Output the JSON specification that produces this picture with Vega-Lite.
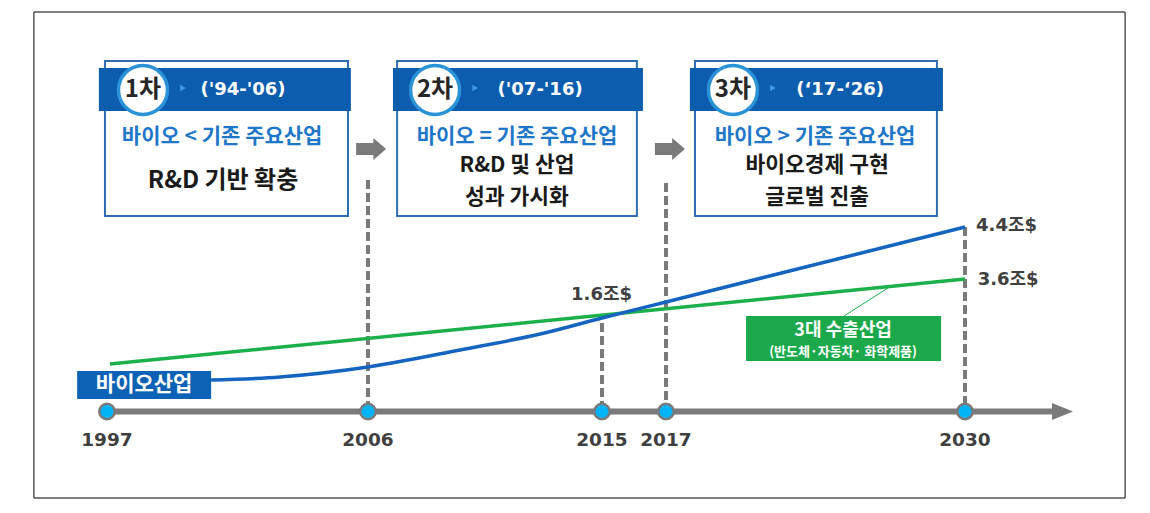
{
  "$schema": "https://vega.github.io/schema/vega-lite/v6.json",
  "width": 1150,
  "height": 513,
  "autosize": "none",
  "padding": 0,
  "background": "white",
  "config": {"view": {"stroke": null}},
  "datasets": {
    "frame": [{"x": 1994.48, "x2": 2036.96, "y": 100.2, "y2": 3.0}],
    "boxes": [
      {"phase": "1차", "x": 1996.93, "x2": 2005.31, "y": 90.4, "y2": 59.4},
      {"phase": "2차", "x": 2007.12, "x2": 2016.09, "y": 90.4, "y2": 59.4},
      {"phase": "3차", "x": 2018.26, "x2": 2028.78, "y": 90.4, "y2": 59.4}
    ],
    "bands": [
      {"phase": "1차", "x": 1996.72, "x2": 2005.41, "y": 89.0, "y2": 80.4},
      {"phase": "2차", "x": 2006.96, "x2": 2016.28, "y": 89.0, "y2": 80.4},
      {"phase": "3차", "x": 2018.04, "x2": 2029.04, "y": 89.0, "y2": 80.4}
    ],
    "badges": [
      {"label": "1차", "x": 1998.24, "y": 84.6},
      {"label": "2차", "x": 2008.58, "y": 84.6},
      {"label": "3차", "x": 2019.91, "y": 84.6}
    ],
    "chevrons": [
      {"x": 1999.62, "y": 85.0},
      {"x": 2010.12, "y": 85.0},
      {"x": 2021.65, "y": 85.0}
    ],
    "periods": [
      {"label": "('94-'06)", "x": 2001.69, "y": 84.6},
      {"label": "('07-'16)", "x": 2012.62, "y": 84.6},
      {"label": "(‘17-‘26)", "x": 2024.57, "y": 84.6}
    ],
    "compare": [
      {"label": "바이오 < 기존 주요산업", "x": 2000.97, "y": 75.2},
      {"label": "바이오 = 기존 주요산업", "x": 2011.73, "y": 75.2},
      {"label": "바이오 > 기존 주요산업", "x": 2023.48, "y": 75.2}
    ],
    "goalSingle": [
      {"label": "R&D  기반  확충", "x": 2001.0, "y": 66.4}
    ],
    "goals": [
      {"label": "R&D 및 산업", "x": 2011.73, "y": 69.4},
      {"label": "성과 가시화", "x": 2011.73, "y": 63.0},
      {"label": "바이오경제 구현", "x": 2023.57, "y": 69.4},
      {"label": "글로벌 진출", "x": 2023.57, "y": 63.0}
    ],
    "arrows": [
      {"x": 2006.12, "y": 72.8},
      {"x": 2017.17, "y": 72.8}
    ],
    "guides": [
      {"x": 2006, "y": 66.6, "y2": 21.6},
      {"x": 2015, "y": 38.0, "y2": 21.6},
      {"x": 2017, "y": 66.0, "y2": 21.6},
      {"x": 2030, "y": 57.2, "y2": 21.6}
    ],
    "exportIndustry": [
      {"x": 1997.10, "y": 29.8},
      {"x": 2030.0, "y": 46.8}
    ],
    "bioIndustry": [
      {"x": 2000.59, "y": 26.6},
      {"x": 2002.97, "y": 27.2},
      {"x": 2006.0, "y": 29.2},
      {"x": 2009.54, "y": 32.6},
      {"x": 2012.62, "y": 35.8},
      {"x": 2015.0, "y": 39.0},
      {"x": 2017.0, "y": 42.2},
      {"x": 2030.0, "y": 57.2}
    ],
    "values": [
      {"label": "4.4조$", "x": 2030.48, "y": 57.4},
      {"label": "3.6조$", "x": 2030.55, "y": 46.6},
      {"label": "1.6조$", "x": 2013.81, "y": 43.6}
    ],
    "leader": [{"x": 2026.65, "y": 45.0, "x2": 2024.74, "y2": 39.4}],
    "exportBox": [{"x": 2020.48, "x2": 2028.96, "y": 39.4, "y2": 30.4}],
    "exportText": [
      {"label": "3대 수출산업", "x": 2024.70, "y": 36.5, "kind": "main"},
      {"label": "(반도체·자동차· 화학제품)", "x": 2024.70, "y": 32.2, "kind": "sub"}
    ],
    "bioBox": [{"x": 1995.97, "x2": 2000.59, "y": 28.4, "y2": 22.8}],
    "bioText": [{"label": "바이오산업", "x": 1998.28, "y": 25.6}],
    "axisLine": [{"x": 1997, "x2": 2033.78, "y": 20.3}],
    "axisHead": [{"x": 2034.24, "y": 20.3}],
    "milestones": [
      {"x": 1997, "y": 20.3},
      {"x": 2006, "y": 20.3},
      {"x": 2015, "y": 20.3},
      {"x": 2017, "y": 20.3},
      {"x": 2030, "y": 20.3}
    ]
  },
  "encoding": {
    "x": {"field": "x", "type": "quantitative", "axis": null,
      "scale": {"domain": [1997, 2006, 2015, 2017, 2030], "range": [107, 368, 602, 666, 965], "zero": false, "nice": false}},
    "y": {"field": "y", "type": "quantitative", "axis": null,
      "scale": {"domain": [0, 102.6], "zero": false, "nice": false}}
  },
  "layer": [
    {"data": {"name": "frame"}, "mark": {"type": "rect", "fill": null, "stroke": "#000000", "strokeWidth": 1},
      "encoding": {"x2": {"field": "x2"}, "y2": {"field": "y2"}}},
    {"data": {"name": "boxes"}, "mark": {"type": "rect", "fill": "white", "stroke": "#2e6db4", "strokeWidth": 2},
      "encoding": {"x2": {"field": "x2"}, "y2": {"field": "y2"}}},
    {"data": {"name": "bands"}, "mark": {"type": "rect", "fill": "#0d5dae"},
      "encoding": {"x2": {"field": "x2"}, "y2": {"field": "y2"}}},
    {"data": {"name": "badges"}, "mark": {"type": "point", "shape": "circle", "filled": true, "fill": "white", "stroke": "#2a93d8", "strokeWidth": 3.5, "size": 2400, "opacity": 1}},
    {"data": {"name": "badges"}, "mark": {"type": "text", "font": "Noto Sans CJK KR", "fontWeight": "bold", "fontSize": 24, "color": "#262626", "align": "center", "baseline": "middle"},
      "encoding": {"text": {"field": "label"}}},
    {"data": {"name": "chevrons"}, "mark": {"type": "point", "shape": "triangle-right", "filled": true, "color": "#3d9de0", "size": 40, "opacity": 1}},
    {"data": {"name": "periods"}, "mark": {"type": "text", "font": "DejaVu Sans", "fontWeight": "bold", "fontSize": 18, "color": "white", "align": "center", "baseline": "middle"},
      "encoding": {"text": {"field": "label"}}},
    {"data": {"name": "compare"}, "mark": {"type": "text", "font": "Noto Sans CJK KR", "fontWeight": "bold", "fontSize": 21, "color": "#1f77c9", "align": "center", "baseline": "middle"},
      "encoding": {"text": {"field": "label"}}},
    {"data": {"name": "goalSingle"}, "mark": {"type": "text", "font": "Noto Sans CJK KR", "fontWeight": "bold", "fontSize": 24, "color": "#1a1a1a", "align": "center", "baseline": "middle"},
      "encoding": {"text": {"field": "label"}}},
    {"data": {"name": "goals"}, "mark": {"type": "text", "font": "Noto Sans CJK KR", "fontWeight": "bold", "fontSize": 21.5, "color": "#1a1a1a", "align": "center", "baseline": "middle"},
      "encoding": {"text": {"field": "label"}}},
    {"data": {"name": "arrows"}, "mark": {"type": "point", "shape": "M-1,-0.4L0.15,-0.4L0.15,-0.73L1,0L0.15,0.73L0.15,0.4L-1,0.4Z", "filled": true, "color": "#7a7a7a", "size": 900, "opacity": 1}},
    {"data": {"name": "guides"}, "mark": {"type": "rule", "color": "#7a7a7a", "strokeWidth": 4, "strokeDash": [9, 4]},
      "encoding": {"y2": {"field": "y2"}}},
    {"data": {"name": "exportIndustry"}, "mark": {"type": "line", "color": "#1cb04b", "strokeWidth": 3.5}},
    {"data": {"name": "bioIndustry"}, "mark": {"type": "line", "color": "#1565c0", "strokeWidth": 3.5, "interpolate": "monotone"}},
    {"data": {"name": "values"}, "mark": {"type": "text", "font": "DejaVu Sans, Noto Sans CJK KR", "fontWeight": "bold", "fontSize": 18, "color": "#404040", "align": "left", "baseline": "middle"},
      "encoding": {"text": {"field": "label"}}},
    {"data": {"name": "leader"}, "mark": {"type": "rule", "color": "#1cb04b", "strokeWidth": 1},
      "encoding": {"x2": {"field": "x2"}, "y2": {"field": "y2"}}},
    {"data": {"name": "exportBox"}, "mark": {"type": "rect", "fill": "#1ca94b"},
      "encoding": {"x2": {"field": "x2"}, "y2": {"field": "y2"}}},
    {"data": {"name": "exportText"}, "transform": [{"filter": "datum.kind === 'main'"}],
      "mark": {"type": "text", "font": "Noto Sans CJK KR", "fontWeight": "bold", "fontSize": 18, "color": "white", "align": "center", "baseline": "middle"},
      "encoding": {"text": {"field": "label"}}},
    {"data": {"name": "exportText"}, "transform": [{"filter": "datum.kind === 'sub'"}],
      "mark": {"type": "text", "font": "Noto Sans CJK KR", "fontWeight": "bold", "fontSize": 13, "color": "white", "align": "center", "baseline": "middle"},
      "encoding": {"text": {"field": "label"}}},
    {"data": {"name": "bioBox"}, "mark": {"type": "rect", "fill": "#0e62b6"},
      "encoding": {"x2": {"field": "x2"}, "y2": {"field": "y2"}}},
    {"data": {"name": "bioText"}, "mark": {"type": "text", "font": "Noto Sans CJK KR", "fontWeight": "bold", "fontSize": 21, "color": "white", "align": "center", "baseline": "middle"},
      "encoding": {"text": {"field": "label"}}},
    {"data": {"name": "axisLine"}, "mark": {"type": "rule", "color": "#7a7a7a", "strokeWidth": 6},
      "encoding": {"x2": {"field": "x2"}}},
    {"data": {"name": "axisHead"}, "mark": {"type": "point", "shape": "M-1,-0.8L1,0L-1,0.8Z", "filled": true, "color": "#7a7a7a", "size": 441, "opacity": 1}},
    {"data": {"name": "milestones"}, "mark": {"type": "point", "shape": "circle", "filled": true, "fill": "#00b4f5", "stroke": "#7a7a7a", "strokeWidth": 2.5, "size": 240, "opacity": 1}},
    {"data": {"name": "milestones"}, "mark": {"type": "text", "font": "DejaVu Sans", "fontWeight": "bold", "fontSize": 18.5, "color": "#3f3f3f", "align": "center", "baseline": "middle", "dy": 28.5},
      "encoding": {"text": {"field": "x", "type": "quantitative", "format": "d"}}}
  ]
}
